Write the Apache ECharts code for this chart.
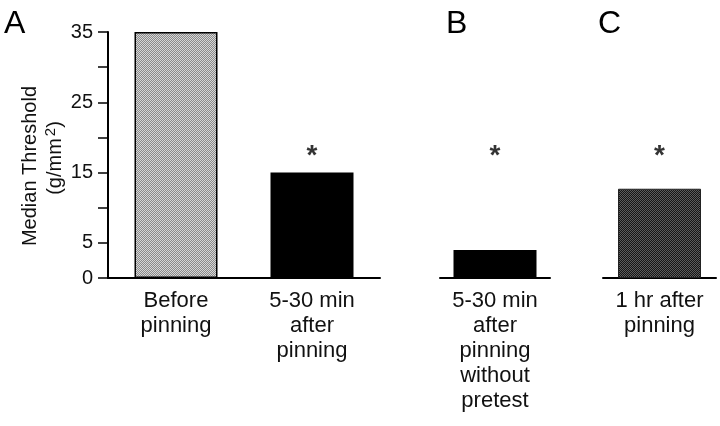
<!DOCTYPE html>
<html>
<head>
<meta charset="utf-8">
<script src="https://cdn.jsdelivr.net/npm/echarts@6/dist/echarts.min.js"></script>
<style>
  html, body { margin: 0; padding: 0; background: #fff; }
  #chart { width: 720px; height: 426px; }
</style>
</head>
<body>
<div id="chart"></div>
<script>
// panel A / B / C data
var catsA = ["Before\npinning", "5-30 min\nafter\npinning"]
var valsA = [35, 15]
var catsB = ["5-30 min\nafter\npinning\nwithout\npretest"]
var valsB = [4]
var catsC = ["1 hr after\npinning"]
var valsC = [12.7]
// asterisks (significance marks), '-' = none
var starA = ["-", 17.3]
var starB = [17.3]
var starC = [17.3]
var yTicks = [0, 5, 15, 25, 35]

function makePattern(c1, c2) {
    let cv = document.createElement("canvas")
    cv.width = 4
    cv.height = 4
    let ctx = cv.getContext("2d")
    for (let i = 0; i < 4; i++) {
        for (let j = 0; j < 4; j++) {
            ctx.fillStyle = (i + j) % 2 ? c1 : c2
            ctx.fillRect(i, j, 1, 1)
        }
    }
    return { image: cv, repeat: "repeat" }
}

var lightDots = makePattern("#8a8a8a", "#d6d6d6")
var darkDots = makePattern("#161616", "#5c5c5c")

var font = "'Liberation Sans', Arial, Helvetica, sans-serif"
var gridTop = 32, gridH = 246

function xAx(idx, cats) {
    return {
        type: "category", gridIndex: idx, data: cats,
        axisLine: { lineStyle: { color: "#000", width: 2 } },
        axisTick: { show: false },
        axisLabel: { color: "#111", fontSize: 22, fontFamily: font, lineHeight: 25, margin: 10, interval: 0 }
    }
}
function yAx(idx, show) {
    return {
        type: "value", gridIndex: idx, min: 0, max: 35, interval: 5,
        splitLine: { show: false },
        axisLine: { show: show, lineStyle: { color: "#000", width: 2 } },
        axisTick: { show: show, length: 10, lineStyle: { color: "#000", width: 1.5 } },
        axisLabel: {
            show: show, color: "#111", fontSize: 20, fontFamily: font, margin: 15,
            formatter: v => yTicks.includes(v) ? String(v) : ""
        }
    }
}
function stars(idx, data) {
    return {
        type: "scatter", xAxisIndex: idx, yAxisIndex: idx, data: data,
        symbolSize: 0, silent: true,
        label: { show: true, position: "inside", formatter: "*", color: "#000", fontSize: 28, fontWeight: "bold", fontFamily: font }
    }
}

var styleA = [
    { color: lightDots, borderColor: "#000", borderWidth: 1.5 },
    { color: "#000" }
]
var letterStyle = { fontSize: 32, fontWeight: "normal", color: "#000", fontFamily: font }

var chart = echarts.init(document.getElementById("chart"))
chart.setOption({
    animation: false,
    title: [
        { text: "A", left: 4, top: 8, padding: 0, textStyle: letterStyle },
        { text: "B", left: 446, top: 8, padding: 0, textStyle: letterStyle },
        { text: "C", left: 598, top: 8, padding: 0, textStyle: letterStyle }
    ],
    grid: [
        { left: 108, width: 272, top: gridTop, height: gridH },
        { left: 440, width: 110, top: gridTop, height: gridH },
        { left: 603, width: 113, top: gridTop, height: gridH }
    ],
    xAxis: [xAx(0, catsA), xAx(1, catsB), xAx(2, catsC)],
    yAxis: [yAx(0, true), yAx(1, false), yAx(2, false)],
    graphic: [
        {
            type: "text", x: 30, y: 166, rotation: Math.PI / 2,
            style: { text: "Median Threshold", font: "20px " + font, fill: "#111", align: "center", verticalAlign: "middle" }
        },
        {
            type: "text", x: 55, y: 158, rotation: Math.PI / 2,
            style: {
                text: "(g/mm{sup|2})", font: "20px " + font, fill: "#111", align: "center", verticalAlign: "middle",
                rich: { sup: { fontSize: 15, fontFamily: font, fill: "#111", padding: [0, 0, 9, 2] } }
            }
        }
    ],
    series: [
        {
            type: "bar", xAxisIndex: 0, yAxisIndex: 0, barWidth: 83,
            data: valsA.map((v, i) => ({ value: v, itemStyle: styleA[i] }))
        },
        {
            type: "bar", xAxisIndex: 1, yAxisIndex: 1, barWidth: 83,
            data: valsB, itemStyle: { color: "#000" }
        },
        {
            type: "bar", xAxisIndex: 2, yAxisIndex: 2, barWidth: 83,
            data: valsC, itemStyle: { color: darkDots, borderColor: "#222", borderWidth: 1 }
        },
        stars(0, starA), stars(1, starB), stars(2, starC)
    ]
})
</script>
</body>
</html>
